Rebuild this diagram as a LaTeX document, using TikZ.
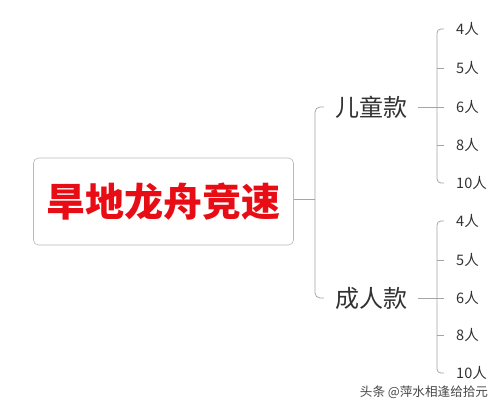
\documentclass[tikz,border=0pt]{standalone}
\usepackage{fontspec}
\setmainfont{Noto Sans CJK SC}
\usepackage{tikz}
\usetikzlibrary{positioning}

\definecolor{lngray}{RGB}{165,165,165}
\definecolor{boxgray}{RGB}{185,185,185}
\definecolor{txtgray}{RGB}{50,50,50}
\definecolor{titlered}{RGB}{232,12,20}

\begin{document}
\begin{tikzpicture}[
    x=1pt, y=-1pt,
    every node/.style={text=txtgray},
    ttl/.style={draw=boxgray, rounded corners=5pt, minimum width=260pt,
                minimum height=87pt, inner sep=0pt, line width=0.6pt,
                font=\fontsize{39}{39}\selectfont\bfseries, text=titlered},
    br/.style={inner xsep=11pt, inner ysep=2pt, font=\fontsize{24}{24}\selectfont},
    lf/.style={anchor=west, inner xsep=12pt, inner ysep=1pt,
               font=\fontsize{14.5}{14.5}\selectfont},
    ln/.style={draw=lngray, line width=0.8pt},
    wm/.style={font=\fontsize{12.6}{12.6}\selectfont, text=black!72},
  ]
  \useasboundingbox (0,0) rectangle (500,404);
  \node[ttl] (title) at (163.5,201.5) {旱地龙舟竞速};
  \node[br] (kid) at (371,107) {儿童款};
  \node[br] (adult) at (371,298) {成人款};
  \coordinate (jn) at (315,199);
  \coordinate (kc) at (437,107);
  \coordinate (ac) at (437,298);
  \node[lf] (k4) at (444,29) {4人};
  \node[lf] (k5) at (444,68) {5人};
  \node[lf] (k6) at (444,107) {6人};
  \node[lf] (k8) at (444,145) {8人};
  \node[lf] (k10) at (444,183) {10人};
  \node[lf] (a4) at (444,221) {4人};
  \node[lf] (a5) at (444,260) {5人};
  \node[lf] (a6) at (444,298) {6人};
  \node[lf] (a8) at (444,335) {8人};
  \node[lf] (a10) at (444,373) {10人};
  \node[wm] (mark) at (424,392) {头条 @萍水相逢给拾元};
  \draw[ln] (title.east |- jn) -- (jn);
  \draw[ln, rounded corners=5pt] (kid.west) -| (jn) |- (adult.west);
  \draw[ln] (kid.east) -- (k6.west);
  \draw[ln, rounded corners=4pt] (k4.west) -| (kc) |- (k10.west);
  \draw[ln] (k5.west) -- (k5.west -| kc);
  \draw[ln] (k8.west) -- (k8.west -| kc);
  \draw[ln] (adult.east) -- (a6.west);
  \draw[ln, rounded corners=4pt] (a4.west) -| (ac) |- (a10.west);
  \draw[ln] (a5.west) -- (a5.west -| ac);
  \draw[ln] (a8.west) -- (a8.west -| ac);
\end{tikzpicture}
\end{document}
